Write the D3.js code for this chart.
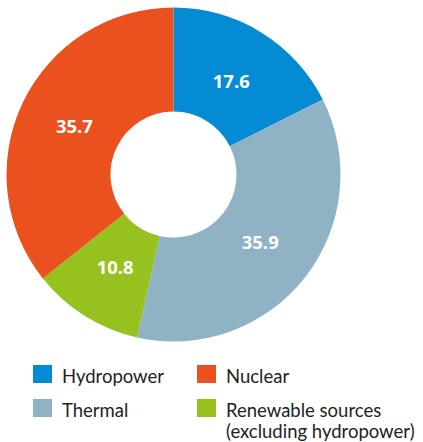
<!DOCTYPE html>
<html><head><meta charset="utf-8">
<script src="https://cdn.jsdelivr.net/npm/d3@7"></script>
<style>body{margin:0;background:#fff}svg{display:block}</style>
</head><body>
<svg id="c" width="423" height="442"></svg>
<script>
const categories = ["Hydropower", "Thermal", "Renewable sources (excluding hydropower)", "Nuclear"];
const values = [17.6, 35.9, 10.8, 35.7];
const colors = ["#058bd3", "#8fb2c5", "#97c11f", "#ea511e"];
const legendOrder = ["Hydropower", "Nuclear", "Thermal", "Renewable sources (excluding hydropower)"];
const legendLines = {"Renewable sources (excluding hydropower)": ["Renewable sources", "(excluding hydropower)"]};

const svg = d3.select("#c");
const cx = 173.5, cy = 174.5, rOut = 167, rIn = 63;
const color = d3.scaleOrdinal().domain(categories).range(colors);
const data = categories.map((c, i) => ({cat: c, v: values[i]}));
const pie = d3.pie().value(d => d.v).sort(null);
const arc = d3.arc().innerRadius(rIn).outerRadius(rOut);
const labelArc = d3.arc().innerRadius(110).outerRadius(110);
const g = svg.append("g").attr("transform", `translate(${cx},${cy})`);
const arcs = pie(data);
g.selectAll("path").data(arcs).join("path")
  .attr("d", arc).attr("fill", d => color(d.data.cat));
g.selectAll("text").data(arcs).join("text")
  .attr("transform", d => `translate(${labelArc.centroid(d)})`)
  .attr("text-anchor", "middle").attr("dy", "0.36em")
  .attr("fill", "#fff").attr("font-family", "'Open Sans', sans-serif")
  .attr("font-weight", "bold").attr("font-size", 18.5)
  .text(d => d.data.v.toFixed(1));

const lg = svg.append("g");
const pos = [[33, 365], [197, 365], [33, 399], [197, 399]];
legendOrder.forEach((c, i) => {
  const [x, y] = pos[i];
  lg.append("rect").attr("x", x).attr("y", y).attr("width", 19).attr("height", 18).attr("fill", color(c));
  const lines = legendLines[c] || [c];
  lines.forEach((l, j) => lg.append("text").attr("x", x + 29).attr("y", y + 17.5 + j * 21)
    .attr("font-family", "Lato, sans-serif").attr("font-size", 18.5).attr("fill", "#222").text(l));
});
</script>
</body></html>
